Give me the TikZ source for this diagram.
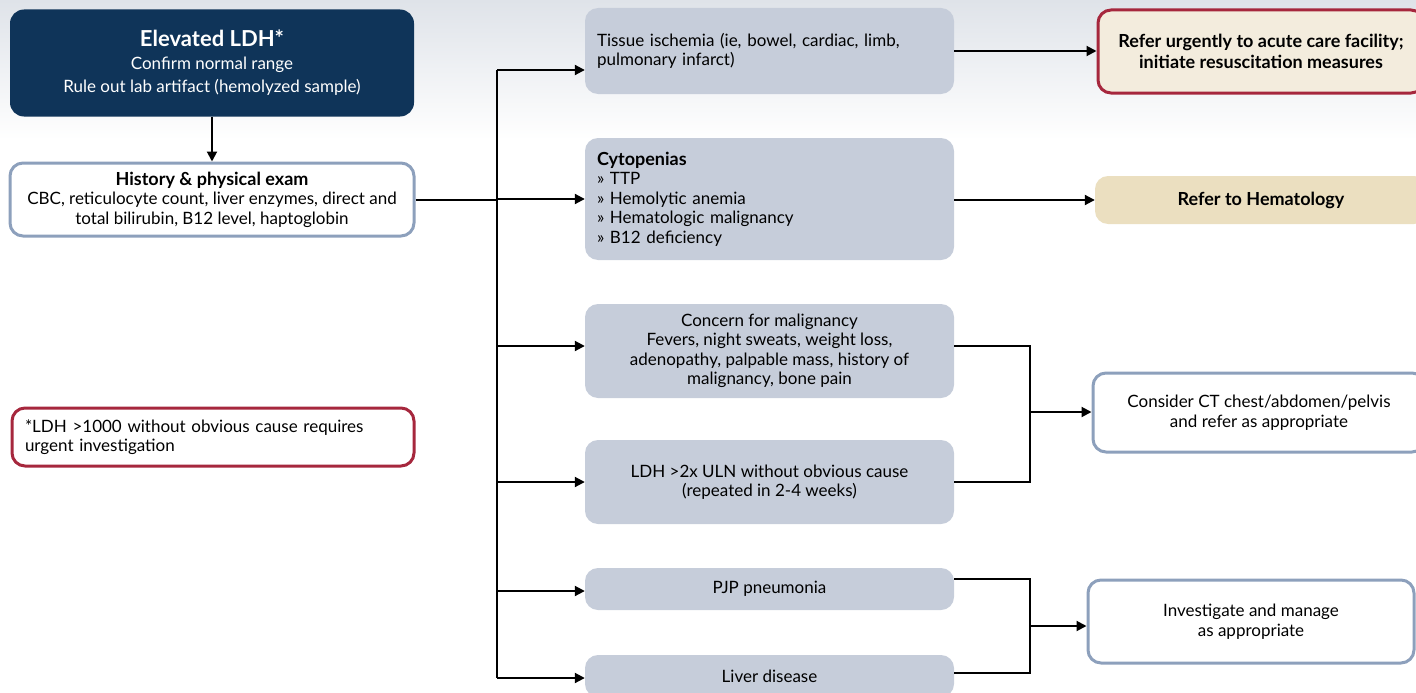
\documentclass[tikz,border=0pt]{standalone}
\usepackage{fontspec}
\setmainfont{Lato}
\usepackage{tikz}
\usetikzlibrary{arrows.meta}
\definecolor{navy}{HTML}{0F3459}
\definecolor{grayfill}{HTML}{C6CDDA}
\definecolor{blueline}{HTML}{8DA0BC}
\definecolor{redline}{HTML}{A6273D}
\definecolor{beigeA}{HTML}{F3ECDD}
\definecolor{beigeB}{HTML}{EBDFC0}
\definecolor{bgtop}{HTML}{DFE3E9}
\newcommand{\txt}{\fontsize{17}{19.5}\selectfont}
\newcommand{\btxt}{\fontsize{18}{20.5}\selectfont\bfseries}
\tikzset{
  nbox/.style={fill=navy, text=white, rounded corners=14pt, align=center, inner sep=0pt, minimum width=404pt, minimum height=107pt, font=\fontsize{17}{23}\selectfont},
  wbox/.style={draw=blueline, line width=3pt, fill=white, rounded corners=13pt, align=center, inner sep=0pt, font=\txt},
  gbox/.style={fill=grayfill, rounded corners=13pt, inner sep=0pt, minimum width=369pt, font=\txt},
  rbox/.style={draw=redline, line width=3pt, rounded corners=13pt, inner sep=0pt, font=\txt},
  farr/.style={-{Triangle[length=10pt,width=10pt]}, line width=2pt},
  fline/.style={line width=2pt}
}
\begin{document}
\begin{tikzpicture}[x=1pt,y=-1pt]
\useasboundingbox (0,0) rectangle (1416,693);
\clip (0,0) rectangle (1416,693);
\shade[top color=bgtop, bottom color=white] (0,0) rectangle (1416,140);

\node[nbox] (ldh) at (212,63) {{\fontsize{22}{24}\selectfont\bfseries Elevated LDH*}\\
  Confirm normal range\\ Rule out lab artifact (hemolyzed sample)};
\node[wbox, minimum width=404pt, minimum height=73pt] (hist) at (212,199.5)
  {{\btxt History \& physical exam}\\ CBC, reticulocyte count, liver enzymes, direct and\\ total bilirubin, B12 level, haptoglobin};
\node[rbox, fill=white, minimum width=402pt, minimum height=58pt, text width=376pt, align=left] (note) at (213,437)
  {*LDH >1000 without obvious cause requires\\ urgent investigation};

\node[gbox, minimum height=86pt, text width=345pt, align=left] (tissue) at (769.5,51)
  {Tissue ischemia (ie, bowel, cardiac, limb,\\ pulmonary infarct)};
\node[gbox, minimum height=122pt, text width=345pt, align=left] (cyto) at (769.5,199)
  {{\btxt Cytopenias}\\ » TTP\\ » Hemolytic anemia\\ » Hematologic malignancy\\ » B12 deficiency};
\node[gbox, minimum height=94pt, align=center] (concern) at (769.5,351)
  {Concern for malignancy\\ Fevers, night sweats, weight loss,\\ adenopathy, palpable mass, history of\\ malignancy, bone pain};
\node[gbox, minimum height=84pt, align=center] (uln) at (769.5,482)
  {LDH >2x ULN without obvious cause\\ (repeated in 2-4 weeks)};
\node[gbox, minimum height=42pt, align=center] (pjp) at (769.5,589) {PJP pneumonia};
\node[gbox, minimum height=42pt, align=center] (liver) at (769.5,676) {Liver disease};

\node[rbox, fill=beigeA, minimum width=326pt, minimum height=83pt, align=center, font=\btxt] (urgent) at (1261,51.5)
  {Refer urgently to acute care facility;\\ initiate resuscitation measures};
\node[fill=beigeB, rounded corners=13pt, inner sep=0pt, minimum width=332pt, minimum height=48pt, font=\btxt] (hema) at (1261,200)
  {Refer to Hematology};
\node[wbox, minimum width=332pt, minimum height=79pt] (ct) at (1259,412.5)
  {Consider CT chest/abdomen/pelvis\\ and refer as appropriate};
\node[wbox, minimum width=326pt, minimum height=83pt] (inv) at (1251,621.5)
  {Investigate and manage\\ as appropriate};

\coordinate (ttop) at (497,70);
\coordinate (tbot) at (497,678);
\coordinate (jmal) at (1030,412);
\coordinate (jpjp) at (1030,626);

\draw[farr] (ldh) -- (hist);
\draw[fline] (hist.east) -- (hist.east -| ttop);
\draw[fline] (ttop) -- (tbot);
\draw[farr] (ttop) -- (ttop -| tissue.west);
\draw[farr] (ttop |- cyto) -- (cyto.west);
\draw[farr] (497,346) -- (concern.west |- 0,346);
\draw[farr] (ttop |- uln) -- (uln.west);
\draw[farr] (497,591) -- (pjp.west |- 0,591);
\draw[farr] (tbot) -- (tbot -| liver.west);

\draw[farr] (tissue.east) -- (urgent.west |- tissue.east);
\draw[farr] (cyto.east |- hema) -- (hema.west);
\draw[fline] (concern.east |- 0,346) -| (jmal) |- (uln.east);
\draw[farr] (jmal) -- (jmal -| ct.west);
\draw[fline] (pjp.east |- 0,579) -| (jpjp) |- (liver.east |- 0,673);
\draw[farr] (jpjp) -- (jpjp -| inv.west);
\end{tikzpicture}
\end{document}
